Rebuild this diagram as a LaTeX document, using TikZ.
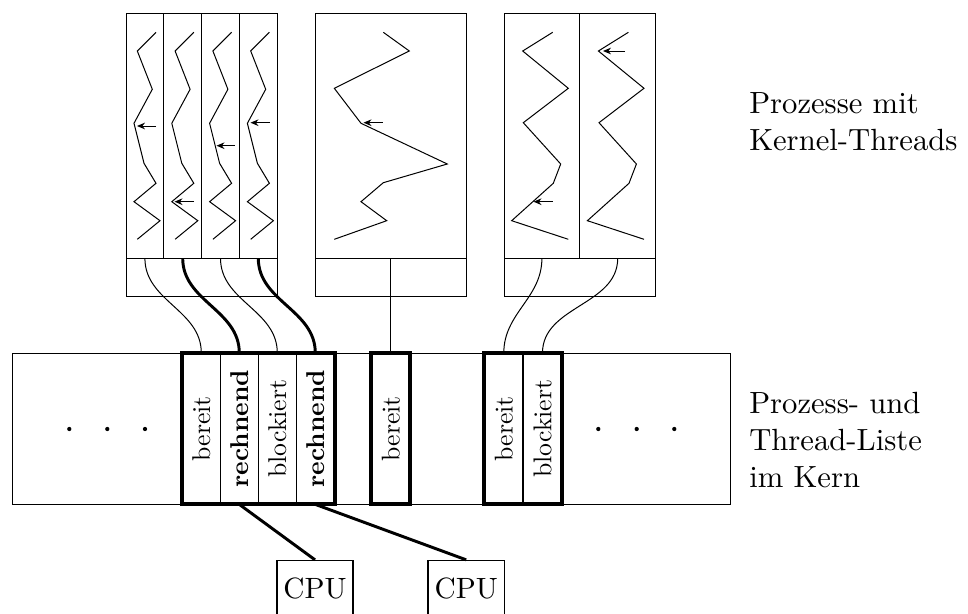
\documentclass[tikz,border=0pt]{standalone}
\usepackage{fontspec}
\setmainfont{lmroman10-regular.otf}[BoldFont=lmroman10-bold.otf]
\usepackage{graphicx}
\usetikzlibrary{arrows.meta}
\begin{document}
\begin{tikzpicture}[x=0.75pt,y=-0.75pt,
  lnthin/.style={line width=0.75pt},
  lnthick/.style={line width=2.2pt},
  grpbox/.style={line width=3pt},
  zig/.style={line width=0.75pt},
  tarrow/.style={-{Stealth[length=6pt,width=5pt]},line width=0.75pt},
  cell/.style={draw,line width=0.6pt,rectangle,minimum width=28.5pt,minimum height=113pt,inner sep=0pt,font=\fontsize{19.3}{23}\selectfont},
  cpubox/.style={draw,line width=1.2pt,rectangle,minimum width=57.4pt,minimum height=41.5pt,inner sep=0pt,font=\fontsize{22}{27}\selectfont},
  sidetext/.style={anchor=west,align=left,inner sep=0pt,font=\fontsize{23}{28}\selectfont}]
\useasboundingbox (0,0) rectangle (968,614);
\clip (0,0) rectangle (968,614);

% process boxes
\draw[lnthin] (126,13) rectangle (277.2,296);
\draw[lnthin] (126,258.3) -- (277.2,258.3);
\foreach \xx in {163.8,201.6,239.4} \draw[lnthin] (\xx,13) -- (\xx,258.3);
\draw[lnthin] (315,13) rectangle (466.6,296);
\draw[lnthin] (315,258.3) -- (466.6,258.3);
\draw[lnthin] (504,13) rectangle (655.6,296);
\draw[lnthin] (504,258.3) -- (655.6,258.3);
\draw[lnthin] (579.8,13) -- (579.8,258.3);

% zigzags box 1
\foreach \dx in {0,37.8,75.6,113.4} {
  \draw[zig] (156+\dx,32.3) -- (137.3+\dx,51) -- (152.3+\dx,89.3) -- (134+\dx,123.3) -- (144+\dx,163.3) -- (156+\dx,183.3) -- (134+\dx,201.7) -- (160+\dx,220.7) -- (137.3+\dx,239.3);
}
\draw[tarrow] (156,126) -- (137,126);
\draw[tarrow] (194,201.7) -- (174.5,201.7);
\draw[tarrow] (235,145.7) -- (216.5,145.7);
\draw[tarrow] (270,122.7) -- (250.5,122.7);

% zigzag box 2
\draw[zig] (383.3,32.3) -- (409.3,51) -- (334.3,88.3) -- (361,123.3) -- (447.3,164) -- (383.3,182.7) -- (361,201.7) -- (386.7,220.7) -- (334.3,239.3);
\draw[tarrow] (382.7,122.7) -- (363.5,122.7);

% zigzags box 3
\foreach \dx in {0,75.7} {
  \draw[zig] (552.7+\dx,32.3) -- (522.7+\dx,51) -- (568.3+\dx,88.3) -- (523.3+\dx,122.7) -- (560.7+\dx,164) -- (553.3+\dx,183.3) -- (511.7+\dx,220.7) -- (568.3+\dx,239.3);
}
\draw[tarrow] (552.7,201.7) -- (533.5,201.7);
\draw[tarrow] (625,51) -- (603,51);

% thread attachment points
\coordinate (a1) at (144.9,258.3);
\coordinate (a2) at (182.7,258.3);
\coordinate (a3) at (220.5,258.3);
\coordinate (a4) at (258.3,258.3);
\coordinate (b1) at (390.8,258.3);
\coordinate (c1) at (541.9,258.3);
\coordinate (c2) at (617.7,258.3);

% kernel list
\draw[lnthin] (12.7,353.3) rectangle (730,504);
\node[cell] (l1) at (201.3,428.65) {\rotatebox{90}{bereit}};
\node[cell] (l2) at (239.3,428.65) {\rotatebox{90}{\bfseries rechnend}};
\node[cell] (l3) at (277.3,428.65) {\rotatebox{90}{blockiert}};
\node[cell] (l4) at (315.3,428.65) {\rotatebox{90}{\bfseries rechnend}};
\node[cell] (m1) at (390.8,428.65) {\rotatebox{90}{bereit}};
\node[cell] (n1) at (503.8,428.65) {\rotatebox{90}{bereit}};
\node[cell] (n2) at (542.5,428.65) {\rotatebox{90}{blockiert}};
\draw[grpbox] (l1.north west) rectangle (l4.south east);
\draw[grpbox] (m1.north west) rectangle (m1.south east);
\draw[grpbox] (n1.north west) rectangle (n2.south east);

% dots
\foreach \xx in {69.3,107.3,145,598.3,636.7,674.3} \fill (\xx,429) circle[radius=1.6pt];

% connectors threads -> list
\draw[lnthin]  (a1) .. controls +(0,43) and +(0,-43) .. (l1.north);
\draw[lnthick] (a2) .. controls +(0,43) and +(0,-43) .. (l2.north);
\draw[lnthin]  (a3) .. controls +(0,43) and +(0,-43) .. (l3.north);
\draw[lnthick] (a4) .. controls +(0,43) and +(0,-43) .. (l4.north);
\draw[lnthin]  (b1) -- (m1.north);
\draw[lnthin]  (c1) .. controls +(0,40) and +(0,-40) .. (n1.north);
\draw[lnthin]  (c2) .. controls +(0,47) and +(0,-47) .. (n2.north);

% CPUs
\node[cpubox] (cpu1) at (315,588.3) {CPU};
\node[cpubox] (cpu2) at (466.2,588.3) {CPU};
\draw[lnthick] (l2.south) -- (cpu1.north);
\draw[lnthick] (l4.south) -- (cpu2.north);

% side texts
\node[sidetext] (t1) at (749,122) {Prozesse mit\\Kernel-Threads};
\node[sidetext] (t2) at (749,440) {Prozess- und\\Thread-Liste\\im Kern};
\end{tikzpicture}
\end{document}
